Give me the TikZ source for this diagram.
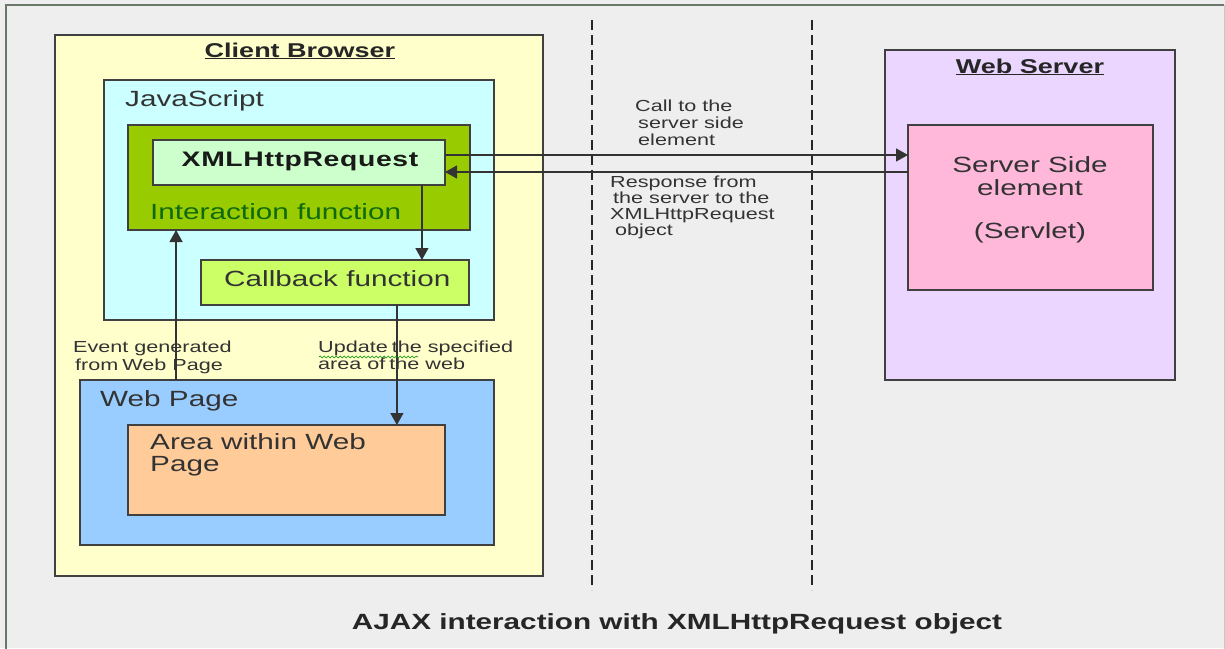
\documentclass[tikz,border=0pt]{standalone}
\usepackage{fontspec}
\setmainfont{Liberation Sans}[FakeStretch=1.35]
\usetikzlibrary{arrows.meta,calc,decorations.pathmorphing}

\definecolor{bgc}{HTML}{EEEEEE}
\definecolor{framec}{HTML}{6A786A}
\definecolor{edgec}{HTML}{404040}
\definecolor{txtc}{HTML}{333333}
\definecolor{browserc}{HTML}{FFFFCC}
\definecolor{jsc}{HTML}{CCFFFF}
\definecolor{interc}{HTML}{99CC00}
\definecolor{xhrc}{HTML}{CCFFCC}
\definecolor{cbkc}{HTML}{CCFF66}
\definecolor{pagec}{HTML}{99CCFF}
\definecolor{areac}{HTML}{FFCC99}
\definecolor{serverc}{HTML}{EAD6FF}
\definecolor{servletc}{HTML}{FFB8DA}
\definecolor{greentxt}{HTML}{0F6A0F}

\tikzset{
  box/.style={draw=edgec, line width=1.5pt, rectangle, anchor=north west,
    inner sep=0pt, outer sep=0pt},
  lbl/.style={anchor=base west, inner sep=0pt, text=txtc,
    font=\fontsize{22}{22}\selectfont},
  title/.style={anchor=base, inner sep=0pt, text=black!85,
    font=\fontsize{20}{20}\selectfont\bfseries},
  note/.style={anchor=north west, inner sep=0pt, text=black!80, align=left,
    font=\fontsize{16}{16.8}\selectfont},
  arr/.style={draw=black!80, line width=1.3pt,
    -{Triangle[length=12pt,width=13pt]}},
  divider/.style={draw=black!85, line width=1.5pt, dash pattern=on 10pt off 5pt},
}

\begin{document}
\begin{tikzpicture}[x=1pt,y=-1pt]
\useasboundingbox (0,0) rectangle (1225,648);
\fill[bgc] (0,0) rectangle (1225,648);
% outer panel frame
\draw[framec, line width=2pt] (6,700) -- (6,5) -- (1224,5);
\draw[framec!40, line width=1pt] (1224,5) -- (1224,700);

% swim-lane dividers
\draw[divider] (592,20) -- (592,590);
\draw[divider] (812,20) -- (812,590);

% client side
\node[box, fill=browserc, minimum width=488pt, minimum height=541pt] (cb) at (55,35) {};
\node[title] (cbt) at (300,57) {\underline{Client Browser}};

\node[box, fill=jsc, minimum width=390pt, minimum height=240pt] (js) at (104,80) {};
\node[lbl] (jst) at (125,106) {JavaScript};

\node[box, fill=interc, minimum width=342pt, minimum height=105pt] (intf) at (128,125) {};
\node[lbl, text=greentxt] (intft) at (150,219) {Interaction function};

\node[box, fill=xhrc, minimum width=292pt, minimum height=45pt] (xhr) at (153,140) {};
\node[title, text=black!90, font=\fontsize{21}{21}\selectfont\bfseries\addfontfeature{LetterSpace=3}]
  (xhrt) at (300,166) {XMLHttpRequest};

\node[box, fill=cbkc, minimum width=268pt, minimum height=45pt] (cbk) at (201,260) {};
\node[lbl] (cbkt) at (224,286) {Callback function};

\node[box, fill=pagec, minimum width=414pt, minimum height=165pt] (wp) at (80,380) {};
\node[lbl] (wpt) at (100,406) {Web Page};

\node[box, fill=areac, minimum width=317pt, minimum height=90pt] (area) at (128,425) {};
\node[lbl, anchor=north west, align=left, font=\fontsize{22}{22}\selectfont] (areat) at (150,433)
  {Area within Web\\Page};

% server side
\node[box, fill=serverc, minimum width=290pt, minimum height=330pt] (ws) at (885,50) {};
\node[title] (wst) at (1030,73) {\underline{Web Server}};

\node[box, fill=servletc, minimum width=245pt, minimum height=165pt] (sse) at (908,125) {};
\node[anchor=north, inner sep=0pt, text=txtc, align=center,
  font=\fontsize{22}{23}\selectfont] (sset) at (1030,156)
  {Server Side\\element\\[20pt](Servlet)};

% connectors
\coordinate (callout) at ($(xhr.north east)!0.333!(xhr.south east)$);
\coordinate (respin) at ($(xhr.north east)!0.711!(xhr.south east)$);
\draw[arr] (callout) -- (callout -| sse.west);
\draw[arr] (respin -| sse.west) -- (respin);

\coordinate (xhrdown) at ($(xhr.south west)!0.921!(xhr.south east)$);
\draw[arr] (xhrdown) -- (xhrdown |- cbk.north);

\coordinate (evtup) at ($(wp.north west)!0.232!(wp.north east)$);
\draw[arr] (evtup) -- (evtup |- intf.south);

\coordinate (cbkdown) at ($(cbk.south west)!0.731!(cbk.south east)$);
\draw[arr] (cbkdown) -- (cbkdown |- area.north);

% connector notes
\node[note] (ncall) at (635,100) {Call to the\\\hspace*{3pt}server side\\\hspace*{3pt}element};
\node[note, font=\fontsize{16}{16}\selectfont] (nresp) at (610,176)
  {Response from\\\hspace*{3pt}the server to the\\XMLHttpRequest\\\hspace*{5pt}object};
\node[note, font=\fontsize{16}{18}\selectfont] (nevt) at (73,341)
  {Event generated\\\hspace*{2pt}from\hspace*{4pt}Web Page};
\node[note] (nupd) at (318,341) {Update\hspace*{4pt}the specified\\area of\hspace*{4pt}the web};
\draw[green!55!black, line width=0.6pt,
  decorate, decoration={snake, amplitude=1pt, segment length=4pt}]
  (319,357) -- (418,357);

% caption
\node[title, text=black!85, font=\fontsize{22}{22}\selectfont\bfseries] (cap) at (677,629)
  {AJAX interaction with XMLHttpRequest object};
\end{tikzpicture}
\end{document}
